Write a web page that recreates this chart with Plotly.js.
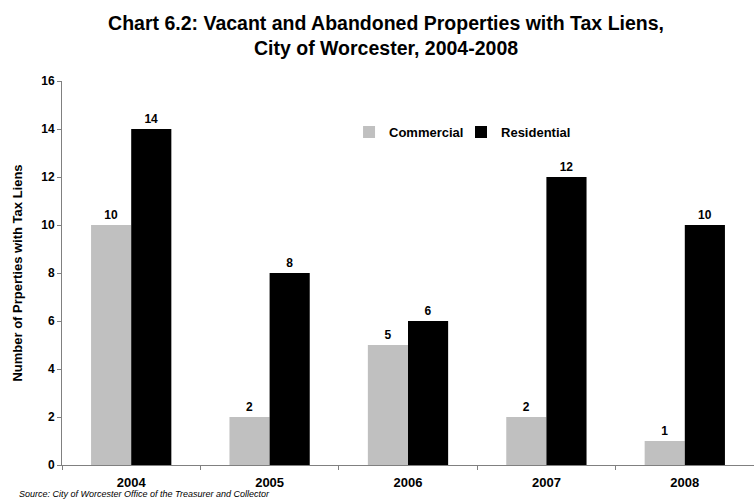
<!DOCTYPE html>
<html>
<head>
<meta charset="utf-8">
<script src="https://cdn.plot.ly/plotly-3.0.1.min.js"></script>
<style>html,body{margin:0;padding:0;background:#fff;}#chart{width:754px;height:500px;}</style>
</head>
<body>
<div id="chart"></div>
<script>
var years = ['2004', '2005', '2006', '2007', '2008'];
var commercial = [10, 2, 5, 2, 1];
var residential = [14, 8, 6, 12, 10];
var yTicks = [0, 2, 4, 6, 8, 10, 12, 14, 16];

var FONT = 'Liberation Sans, Arial, sans-serif';

var traces = [
  {
    type: 'bar', name: 'Commercial', x: years, y: commercial,
    marker: {color: '#c0c0c0'}, legend: 'legend',
    text: commercial.map(String), textposition: 'outside', cliponaxis: false,
    textfont: {family: FONT, size: 12, color: '#000', weight: 'bold'}
  },
  {
    type: 'bar', name: 'Residential', x: years, y: residential,
    marker: {color: '#000000'}, legend: 'legend2',
    text: residential.map(String), textposition: 'outside', cliponaxis: false,
    textfont: {family: FONT, size: 12, color: '#000', weight: 'bold'}
  }
];

var legendFont = {family: FONT, size: 13, color: '#000', weight: 'bold'};

var layout = {
  width: 754, height: 500,
  margin: {l: 62, r: 0, t: 81, b: 35, pad: 0},
  paper_bgcolor: '#fff', plot_bgcolor: '#fff',
  font: {family: FONT, color: '#000', size: 11},
  barmode: 'group', bargap: 0.42, bargroupgap: 0,
  title: {
    text: '<b>Chart 6.2: Vacant and Abandoned Properties with Tax Liens,<br>City of Worcester, 2004-2008</b>',
    font: {family: FONT, size: 19.5, color: '#000'},
    x: 0.512, xanchor: 'center', y: 0.94, yanchor: 'middle', yref: 'container'
  },
  xaxis: {
    type: 'category', showline: true, linecolor: '#808080', linewidth: 1,
    ticks: 'outside', tickson: 'boundaries', ticklen: 4, tickcolor: '#808080',
    showgrid: false, zeroline: false,
    tickfont: {family: FONT, size: 13, color: '#000', weight: 'bold'},
    ticklabelstandoff: 5
  },
  yaxis: {
    range: [0, 16], tickvals: yTicks, ticktext: yTicks.map(String),
    showline: true, linecolor: '#808080', linewidth: 1,
    ticks: 'outside', ticklen: 4, tickcolor: '#808080',
    showgrid: false, zeroline: false,
    tickfont: {family: FONT, size: 12, color: '#000', weight: 'bold'},
    title: {text: '<b>Number of Prperties with Tax Liens</b>', font: {family: FONT, size: 13, color: '#000'}, standoff: 15}
  },
  showlegend: true,
  legend: {
    orientation: 'h', x: 0.4148, xanchor: 'left', y: 0.867, yanchor: 'middle',
    font: legendFont, bgcolor: 'rgba(0,0,0,0)', itemwidth: 30
  },
  legend2: {
    orientation: 'h', x: 0.5766, xanchor: 'left', y: 0.867, yanchor: 'middle',
    font: legendFont, bgcolor: 'rgba(0,0,0,0)', itemwidth: 30
  },
  annotations: [{
    text: '<i>Source: City of Worcester Office of the Treasurer and Collector</i>',
    xref: 'paper', yref: 'paper', x: -0.065, y: -0.0755, xanchor: 'left', yanchor: 'middle',
    showarrow: false, font: {family: FONT, size: 9, color: '#000'}
  }]
};

Plotly.newPlot('chart', traces, layout, {displayModeBar: false, staticPlot: true});
</script>
</body>
</html>
